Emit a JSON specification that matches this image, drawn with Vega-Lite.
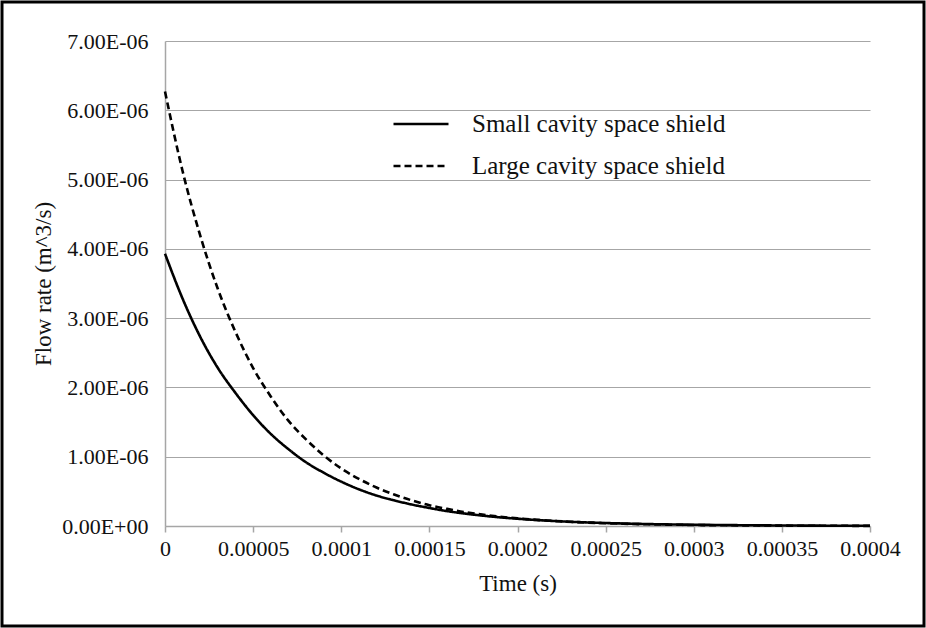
{
  "$schema": "https://vega.github.io/schema/vega-lite/v6.json",
  "autosize": {"type": "none"},
  "padding": 2,
  "width": 922,
  "height": 624,
  "background": "white",
  "config": {
    "font": "'Liberation Serif', 'DejaVu Serif', serif",
    "view": {"stroke": "black", "strokeWidth": 3},
    "axis": {"labelFont": "'Liberation Serif', 'DejaVu Serif', serif", "titleFont": "'Liberation Serif', 'DejaVu Serif', serif", "labelColor": "#111", "titleColor": "#111", "titleFontWeight": "normal"},
    "legend": {"labelFont": "'Liberation Serif', 'DejaVu Serif', serif"},
    "text": {"font": "'Liberation Serif', 'DejaVu Serif', serif"}
  },
  "data": {"values": [
    {"t": 0, "q": 3.93e-6, "s": "Small cavity space shield"},
    {"t": 0.00001, "q": 3.28e-6, "s": "Small cavity space shield"},
    {"t": 0.00002, "q": 2.73e-6, "s": "Small cavity space shield"},
    {"t": 0.00003, "q": 2.28e-6, "s": "Small cavity space shield"},
    {"t": 0.00004, "q": 1.92e-6, "s": "Small cavity space shield"},
    {"t": 0.00005, "q": 1.60e-6, "s": "Small cavity space shield"},
    {"t": 0.00006, "q": 1.33e-6, "s": "Small cavity space shield"},
    {"t": 0.00007, "q": 1.11e-6, "s": "Small cavity space shield"},
    {"t": 0.00008, "q": 0.92e-6, "s": "Small cavity space shield"},
    {"t": 0.00009, "q": 0.77e-6, "s": "Small cavity space shield"},
    {"t": 0.00010, "q": 0.64e-6, "s": "Small cavity space shield"},
    {"t": 0.00011, "q": 0.53e-6, "s": "Small cavity space shield"},
    {"t": 0.00012, "q": 0.44e-6, "s": "Small cavity space shield"},
    {"t": 0.00013, "q": 0.37e-6, "s": "Small cavity space shield"},
    {"t": 0.00014, "q": 0.31e-6, "s": "Small cavity space shield"},
    {"t": 0.00015, "q": 0.26e-6, "s": "Small cavity space shield"},
    {"t": 0.00016, "q": 0.215e-6, "s": "Small cavity space shield"},
    {"t": 0.00017, "q": 0.18e-6, "s": "Small cavity space shield"},
    {"t": 0.00018, "q": 0.15e-6, "s": "Small cavity space shield"},
    {"t": 0.00019, "q": 0.125e-6, "s": "Small cavity space shield"},
    {"t": 0.00020, "q": 0.105e-6, "s": "Small cavity space shield"},
    {"t": 0.00022, "q": 0.073e-6, "s": "Small cavity space shield"},
    {"t": 0.00024, "q": 0.051e-6, "s": "Small cavity space shield"},
    {"t": 0.00026, "q": 0.036e-6, "s": "Small cavity space shield"},
    {"t": 0.00028, "q": 0.025e-6, "s": "Small cavity space shield"},
    {"t": 0.00030, "q": 0.018e-6, "s": "Small cavity space shield"},
    {"t": 0.00032, "q": 0.013e-6, "s": "Small cavity space shield"},
    {"t": 0.00034, "q": 0.009e-6, "s": "Small cavity space shield"},
    {"t": 0.00036, "q": 0.006e-6, "s": "Small cavity space shield"},
    {"t": 0.00038, "q": 0.004e-6, "s": "Small cavity space shield"},
    {"t": 0.00040, "q": 0.003e-6, "s": "Small cavity space shield"},
    {"t": 0, "q": 6.27e-6, "s": "Large cavity space shield"},
    {"t": 0.00001, "q": 5.12e-6, "s": "Large cavity space shield"},
    {"t": 0.00002, "q": 4.19e-6, "s": "Large cavity space shield"},
    {"t": 0.00003, "q": 3.42e-6, "s": "Large cavity space shield"},
    {"t": 0.00004, "q": 2.80e-6, "s": "Large cavity space shield"},
    {"t": 0.00005, "q": 2.28e-6, "s": "Large cavity space shield"},
    {"t": 0.00006, "q": 1.87e-6, "s": "Large cavity space shield"},
    {"t": 0.00007, "q": 1.52e-6, "s": "Large cavity space shield"},
    {"t": 0.00008, "q": 1.25e-6, "s": "Large cavity space shield"},
    {"t": 0.00009, "q": 1.02e-6, "s": "Large cavity space shield"},
    {"t": 0.00010, "q": 0.83e-6, "s": "Large cavity space shield"},
    {"t": 0.00011, "q": 0.68e-6, "s": "Large cavity space shield"},
    {"t": 0.00012, "q": 0.555e-6, "s": "Large cavity space shield"},
    {"t": 0.00013, "q": 0.455e-6, "s": "Large cavity space shield"},
    {"t": 0.00014, "q": 0.37e-6, "s": "Large cavity space shield"},
    {"t": 0.00015, "q": 0.30e-6, "s": "Large cavity space shield"},
    {"t": 0.00016, "q": 0.247e-6, "s": "Large cavity space shield"},
    {"t": 0.00017, "q": 0.20e-6, "s": "Large cavity space shield"},
    {"t": 0.00018, "q": 0.165e-6, "s": "Large cavity space shield"},
    {"t": 0.00019, "q": 0.135e-6, "s": "Large cavity space shield"},
    {"t": 0.00020, "q": 0.11e-6, "s": "Large cavity space shield"},
    {"t": 0.00022, "q": 0.074e-6, "s": "Large cavity space shield"},
    {"t": 0.00024, "q": 0.049e-6, "s": "Large cavity space shield"},
    {"t": 0.00026, "q": 0.033e-6, "s": "Large cavity space shield"},
    {"t": 0.00028, "q": 0.022e-6, "s": "Large cavity space shield"},
    {"t": 0.00030, "q": 0.015e-6, "s": "Large cavity space shield"},
    {"t": 0.00032, "q": 0.010e-6, "s": "Large cavity space shield"},
    {"t": 0.00034, "q": 0.007e-6, "s": "Large cavity space shield"},
    {"t": 0.00036, "q": 0.004e-6, "s": "Large cavity space shield"},
    {"t": 0.00038, "q": 0.003e-6, "s": "Large cavity space shield"},
    {"t": 0.00040, "q": 0.002e-6, "s": "Large cavity space shield"}
  ]},
  "mark": {"type": "line", "color": "black", "strokeWidth": 2.6, "interpolate": "monotone"},
  "encoding": {
    "x": {
      "field": "t", "type": "quantitative",
      "scale": {"domain": [0, 0.0004], "range": [163, 868], "nice": false, "zero": false},
      "axis": {
        "title": "Time (s)", "titleFontSize": 23, "titlePadding": 13,
        "values": [0, 0.00005, 0.0001, 0.00015, 0.0002, 0.00025, 0.0003, 0.00035, 0.0004],
        "format": "~f", "labelFontSize": 22, "labelPadding": 6,
        "offset": -100, "grid": false,
        "domainColor": "#a6a6a6", "domainWidth": 1.5, "tickColor": "#a6a6a6", "tickSize": 6, "tickWidth": 1.5,
        "labelFlush": false, "labelOverlap": false
      }
    },
    "y": {
      "field": "q", "type": "quantitative",
      "scale": {"domain": [0, 7e-6], "range": [524, 39], "nice": false, "zero": false},
      "axis": {
        "title": "Flow rate (m^3/s)", "titleFontSize": 23, "titlePadding": 6,
        "values": [0, 1e-6, 2e-6, 3e-6, 4e-6, 5e-6, 6e-6, 7e-6],
        "labelExpr": "datum.value < 1e-9 ? '0.00E+00' : format(datum.value * 1e6, '.2f') + 'E-06'",
        "labelFontSize": 22, "labelPadding": 17, "ticks": false,
        "offset": -163, "grid": true, "gridColor": "#a6a6a6", "gridWidth": 1.2,
        "domainColor": "#a6a6a6", "domainWidth": 1.5,
        "labelFlush": false, "labelOverlap": false
      }
    },
    "strokeDash": {
      "field": "s", "type": "nominal",
      "scale": {"domain": ["Small cavity space shield", "Large cavity space shield"], "range": [[1, 0], [7, 4]]},
      "legend": {
        "orient": "none", "legendX": 390, "legendY": 93, "title": null,
        "symbolType": "stroke", "symbolSize": 3025, "symbolStrokeWidth": 2.5, "symbolStrokeColor": "black",
        "labelFontSize": 25, "labelColor": "#111", "labelOffset": 22,
        "rowPadding": -14, "labelLimit": 400
      }
    }
  }
}
